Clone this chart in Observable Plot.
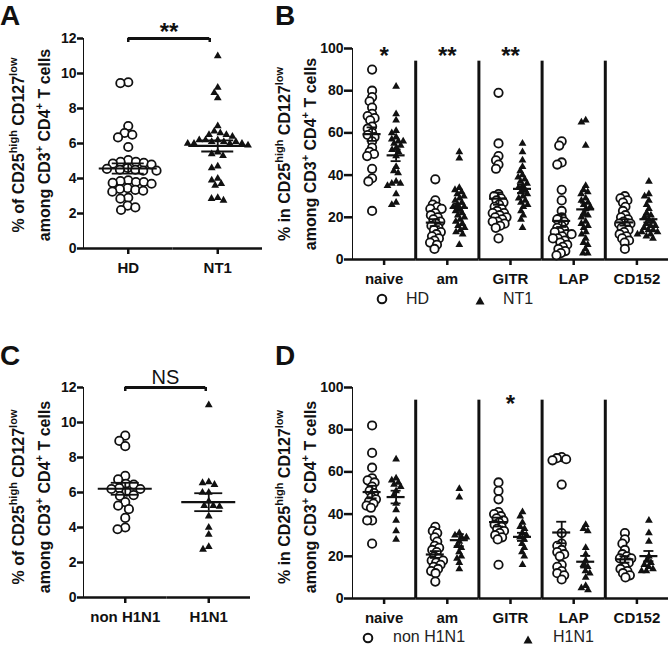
<!DOCTYPE html>
<html><head><meta charset="utf-8">
<script src="https://cdn.jsdelivr.net/npm/d3@7"></script>
<script src="https://cdn.jsdelivr.net/npm/@observablehq/plot@0.6"></script>
<style>
body{margin:0;background:#fff;}
#fig{position:relative;width:668px;height:647px;font-family:"Liberation Sans",Arial,Helvetica,sans-serif;color:#111;overflow:hidden;background:#fff;}
.panel{position:absolute;}
.panel svg{overflow:visible;}
.letter{position:absolute;font-size:28px;font-weight:bold;line-height:32px;}
.ylab{position:absolute;font-weight:bold;font-size:16px;line-height:24.5px;white-space:nowrap;text-align:center;transform:translate(-50%,-50%) rotate(-90deg);}
.ylab sup{font-size:11px;vertical-align:0;position:relative;top:-0.6em;}
.legend{position:absolute;font-size:16px;line-height:12px;color:#222;white-space:nowrap;}
.sym{position:absolute;}
svg g[aria-label*="axis"]{stroke-width:2.5px;}
svg g[aria-label="fx-axis tick label"]{font-size:15px;}
</style></head>
<body><div id="fig"></div>
<script>
// ---------- DATA ----------
// Panel A
const groupsA = ["HD", "NT1"];
const hdA = [9.5, 9.45, 7.0, 6.6, 6.5, 6.35, 5.8, 5.05, 4.95, 4.9, 4.85, 4.8, 4.95, 4.55, 4.5, 4.45, 4.6, 4.5, 4.45, 3.85, 3.8, 3.75, 3.9, 3.8, 3.7, 3.4, 3.3, 3.25, 3.35, 3.45, 2.9, 2.85, 2.45, 2.2, 2.35];
const nt1A = [11.0, 9.2, 8.9, 8.6, 7.0, 6.7, 6.6, 6.5, 6.4, 6.5, 6.2, 6.1, 6.1, 6.0, 6.2, 6.0, 6.0, 6.2, 6.1, 6.0, 5.9, 5.5, 5.4, 5.3, 4.7, 4.6, 4.0, 3.9, 3.7, 3.6, 2.9, 2.75, 2.85];
const ticksA = [0, 2, 4, 6, 8, 10, 12];
const sigA = "**";

// Panel C
const groupsC = ["non H1N1", "H1N1"];
const nonH1N1C = [9.25, 8.95, 8.65, 6.95, 6.75, 6.5, 6.45, 6.25, 6.2, 6.2, 6.05, 5.85, 5.8, 5.45, 5.25, 5.05, 4.55, 4.0, 3.9];
const h1n1C = [11.0, 6.6, 6.45, 6.55, 6.0, 6.0, 5.5, 5.25, 5.25, 5.2, 4.65, 4.0, 3.6, 2.75, 2.9];
const sigC = "NS";

// Panels B and D
const subsets = ["naive", "am", "GITR", "LAP", "CD152"];
const ticksB = [0, 20, 40, 60, 80, 100];
const hdB = [
  [90, 80, 77, 75, 72, 69, 68, 67, 66, 63, 62, 60, 59, 58, 56, 53, 51, 50, 49, 43, 38.5, 37, 23],
  [38, 28, 26, 25, 24, 24, 22, 21, 20, 19, 18, 17, 16, 15, 14, 13, 12, 11, 10, 9, 8, 7, 5],
  [79, 55, 49, 47, 45, 43, 31, 30, 29, 28, 27, 26, 25, 24, 23, 22, 22, 21, 20, 20, 19, 18, 18, 17, 16, 15, 10],
  [56, 54, 46, 45, 33, 28, 23, 20, 19, 18, 16, 15, 14, 13, 13, 12, 12, 11, 10, 10, 9, 8, 7, 6, 5, 4, 3, 2],
  [30, 29, 28, 27, 25, 23, 21, 20, 19, 18, 17, 17, 16, 15, 14, 13, 12, 11, 10, 9, 8, 5]
];
const nt1B = [
  [82, 69, 66, 61, 60, 58, 57, 56, 56, 55, 54, 53, 52, 51, 49, 44, 42, 41, 37, 36, 36, 35, 31, 27, 26],
  [51, 48, 34, 33, 32, 31, 30, 29, 28, 27, 26, 25, 25, 24, 23, 22, 21, 20, 19, 18, 17, 16, 15, 14, 13, 12, 7],
  [55, 51, 47, 44, 42, 40, 39, 38, 37, 36, 35, 34, 33, 32, 31, 30, 29, 28, 27, 26, 25, 23, 21, 19, 15],
  [66, 65, 54, 35, 33, 32, 31, 29, 28, 27, 26, 25, 24, 22, 21, 20, 18, 17, 16, 15, 13, 12, 10, 8, 7, 5, 3, 3],
  [37, 31, 30, 28, 26, 24, 22, 21, 20, 19, 18, 17, 16, 16, 15, 14, 14, 13, 13, 12, 12, 11, 10]
];
const starsB = ["*", "**", "**", "", ""];

const nonH1N1D = [
  [82, 69, 62, 57, 56, 55, 53, 51, 50, 48, 47, 46, 45, 44, 43, 37, 37, 26],
  [34, 32, 31, 29, 27, 25, 24, 23, 22, 20, 19, 18, 18, 17, 16, 15, 14, 13, 12, 8],
  [55, 51, 47, 41, 40, 39, 38, 37, 36, 35, 34, 33, 32, 31, 30, 29, 28, 16],
  [67, 66.5, 66, 65.5, 54, 31, 26, 25, 23, 22, 21, 20, 16, 15, 13, 12, 11, 9],
  [31, 28, 26, 23, 21, 20, 19, 19, 18, 17, 15, 14, 13, 12, 11, 10]
];
const h1n1D = [
  [66, 57, 56, 55, 54, 53, 51, 49, 45, 42, 37, 32, 28],
  [52, 48, 31, 29, 30, 29, 27, 25, 24, 22, 20, 19, 17, 14],
  [41, 39, 36, 34, 33, 31, 30, 29, 28, 26, 24, 22, 20, 16],
  [35, 33, 32, 24, 21, 18, 16, 15, 13, 12, 10, 6, 5, 4],
  [37, 31, 27, 20, 18, 17, 16, 15, 14, 13, 13]
];
const starsD = ["", "", "*", "", ""];
const separatorTop = 94;

// ---------- HELPERS ----------
const INK = "#111";
const FONT = '"Liberation Sans", Arial, Helvetica, sans-serif';

function tidy(cats, group, arrays) {
  return cats.flatMap((cat, i) => arrays[i].map(value => ({cat, group, value})))
    .sort((a, b) => b.value - a.value);
}

function panel(o) {
  const bw = (o.width - o.marginLeft - o.marginRight) / o.cats.length;
  const rows = [...o.rows1, ...o.rows2];
  const summary = d3.flatRollup(rows, v => {
    const m = d3.mean(v, d => d.value);
    const s = d3.deviation(v, d => d.value) / Math.sqrt(v.length);
    return {mean: m, lo: m - s, hi: m + s};
  }, d => d.cat, d => d.group).map(([cat, group, s]) => ({cat, group, ...s}));
  const top = o.ticks[o.ticks.length - 1];
  const summaryMarks = (g, dx) => {
    const S = summary.filter(d => d.group === g);
    const im = (bw - o.meanW) / 2, ic = (bw - o.capW) / 2;
    return [
      Plot.ruleX(S, {x: null, fx: "cat", y1: "lo", y2: "hi", dx, stroke: INK, strokeWidth: 1.8}),
      Plot.tickY(S, {fx: "cat", y: "mean", dx, insetLeft: im, insetRight: im, stroke: INK, strokeWidth: 2.2}),
      Plot.tickY(S, {fx: "cat", y: "lo", dx, insetLeft: ic, insetRight: ic, stroke: INK, strokeWidth: 1.8}),
      Plot.tickY(S, {fx: "cat", y: "hi", dx, insetLeft: ic, insetRight: ic, stroke: INK, strokeWidth: 1.8})
    ];
  };
  const marks = [
    Plot.ruleY([0], {stroke: INK, strokeWidth: 2.5}),
    Plot.dot(o.rows1, Plot.dodgeX({anchor: "middle", padding: o.pad1},
      {fx: "cat", y: "value", r: 4.2, fill: "white", stroke: INK, strokeWidth: 1.8, dx: -o.offset})),
    Plot.dot(o.rows2, Plot.dodgeX({anchor: "middle", padding: o.pad2},
      {fx: "cat", y: "value", r: 2.9, symbol: "triangle", fill: INK, dx: o.offset})),
    ...summaryMarks(o.g1, -o.offset),
    ...summaryMarks(o.g2, o.offset)
  ];
  if (o.separators) {
    marks.push(Plot.ruleX(o.cats.slice(1), {x: null, fx: d => d, y1: 0, y2: separatorTop, dx: -bw / 2, stroke: INK, strokeWidth: 3}));
  }
  if (o.stars) {
    const starRows = o.cats.map((cat, i) => ({cat, label: o.stars[i]})).filter(d => d.label);
    marks.push(Plot.text(starRows, {fx: "cat", text: "label", frameAnchor: "top", lineAnchor: "bottom", dy: o.starDy, fontSize: 24, fontWeight: "bold", fill: INK}));
  }
  if (o.bracket) {
    const b = [{from: o.cats[0], label: o.bracket}];
    const reach = bw - o.shortfall;
    marks.push(
      Plot.ruleY(b, {fx: "from", y: top, insetLeft: bw / 2, insetRight: -(reach - bw / 2), stroke: INK, strokeWidth: 3}),
      Plot.ruleX(b, {x: null, fx: "from", y1: top, y2: top, insetBottom: -4, stroke: INK, strokeWidth: 2.5}),
      Plot.ruleX(b, {x: null, fx: "from", y1: top, y2: top, insetBottom: -4, dx: reach, stroke: INK, strokeWidth: 2.5}),
      Plot.text(b, {fx: "from", text: "label", frameAnchor: "top", lineAnchor: "bottom", dx: reach / 2, dy: o.labelDy, fontSize: o.labelSize, fontWeight: o.labelWeight, fill: INK})
    );
  }
  const svg = Plot.plot({
    width: o.width, height: o.height,
    marginLeft: o.marginLeft, marginRight: o.marginRight, marginTop: o.marginTop, marginBottom: o.marginBottom,
    style: {fontFamily: FONT, fontSize: "14px", fontWeight: "bold", color: INK, background: "transparent", overflow: "visible"},
    fx: {domain: o.cats, padding: 0, round: false, axis: "bottom", label: null, tickSize: 6, tickPadding: 8},
    y: {domain: [0, top], ticks: o.ticks, tickSize: o.tickSize, tickPadding: o.tickPadding, line: true, label: null},
    marks
  });
  const div = document.createElement("div");
  div.className = "panel";
  div.style.left = o.left + "px";
  div.style.top = o.top + "px";
  div.appendChild(svg);
  document.getElementById("fig").appendChild(div);
}

// ---------- PANELS ----------
panel({
  left: 0, top: 0, width: 265, height: 278, marginLeft: 83, marginRight: 3, marginTop: 38, marginBottom: 30,
  cats: groupsA, g1: "HD", g2: "NT1",
  rows1: tidy(groupsA.slice(0, 1), "HD", [hdA]), rows2: tidy(groupsA.slice(1), "NT1", [nt1A]),
  ticks: ticksA, tickSize: 6, tickPadding: 1, offset: 0, meanW: 58, capW: 32, pad1: -0.5, pad2: 0.5,
  bracket: sigA, shortfall: 8, labelDy: 1, labelSize: 24, labelWeight: "bold"
});
panel({
  left: 0, top: 349, width: 253, height: 278, marginLeft: 83, marginRight: 3, marginTop: 38, marginBottom: 30,
  cats: groupsC, g1: "non H1N1", g2: "H1N1",
  rows1: tidy(groupsC.slice(0, 1), "non H1N1", [nonH1N1C]), rows2: tidy(groupsC.slice(1), "H1N1", [h1n1C]),
  ticks: ticksA, tickSize: 6, tickPadding: 1, offset: 0, meanW: 54, capW: 28, pad1: -0.5, pad2: 0.5,
  bracket: sigC, shortfall: 3, labelDy: -4, labelSize: 20, labelWeight: "normal"
});
panel({
  left: 300, top: 0, width: 368, height: 289, marginLeft: 52, marginRight: 0, marginTop: 48, marginBottom: 30,
  cats: subsets, g1: "HD", g2: "NT1",
  rows1: tidy(subsets, "HD", hdB), rows2: tidy(subsets, "NT1", nt1B),
  ticks: ticksB, tickSize: 8, tickPadding: 1, offset: 12, meanW: 18, capW: 10, pad1: -3.5, pad2: -1,
  separators: true, stars: starsB, starDy: 15
});
panel({
  left: 300, top: 339, width: 368, height: 289, marginLeft: 52, marginRight: 0, marginTop: 48, marginBottom: 30,
  cats: subsets, g1: "non H1N1", g2: "H1N1",
  rows1: tidy(subsets, "non H1N1", nonH1N1D), rows2: tidy(subsets, "H1N1", h1n1D),
  ticks: ticksB, tickSize: 8, tickPadding: 1, offset: 12, meanW: 18, capW: 10, pad1: -3.5, pad2: -1,
  separators: true, stars: starsD, starDy: 24
});

// ---------- TEXT OVERLAYS ----------
const fig = document.getElementById("fig");
function add(html, cls, style) {
  const el = document.createElement("div");
  el.className = cls;
  el.innerHTML = html;
  Object.assign(el.style, style);
  fig.appendChild(el);
}
[["A", 0, 0], ["B", 275, 0], ["C", 0, 340], ["D", 275, 340]].forEach(([t, x, y]) => add(t, "letter", {left: x + "px", top: y + "px"}));
const labOf = "% of CD25<sup>high</sup> CD127<sup>low</sup><br>among CD3<sup>+</sup> CD4<sup>+</sup> T cells";
const labIn = "% in CD25<sup>high</sup> CD127<sup>low</sup><br>among CD3<sup>+</sup> CD4<sup>+</sup> T cells";
add(labOf, "ylab", {left: "32px", top: "145px"});
add(labIn, "ylab", {left: "298px", top: "154px"});
add(labOf, "ylab", {left: "32px", top: "497px"});
add(labIn, "ylab", {left: "298px", top: "497px"});

const circleSym = '<svg width="14" height="14"><circle cx="7" cy="7" r="4.3" fill="white" stroke="#111" stroke-width="2"/></svg>';
const triSym = '<svg width="12" height="12"><path d="M6,1.5L10.5,9.5L1.5,9.5Z" fill="#111"/></svg>';
function legendItem(sym, size, cx, label, tx, cy, ty) {
  add(sym, "sym", {left: (cx - size / 2) + "px", top: (cy - size / 2) + "px", width: size + "px", height: size + "px"});
  add(label, "legend", {left: tx + "px", top: (ty - 6) + "px"});
}
legendItem(circleSym, 14, 382, groupsA[0], 406, 299, 299);
legendItem(triSym, 12, 480, groupsA[1], 503, 299, 299);
legendItem(circleSym, 14, 368, groupsC[0], 393, 638, 637);
legendItem(triSym, 12, 528, groupsC[1], 553, 638, 637);
</script>
</body></html>
